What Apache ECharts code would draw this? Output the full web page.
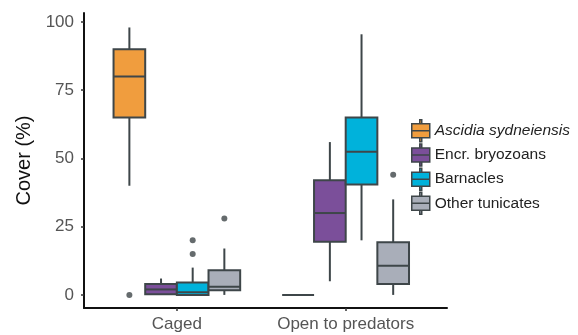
<!DOCTYPE html>
<html><head><meta charset="utf-8">
<script src="https://cdn.jsdelivr.net/npm/echarts@6/dist/echarts.min.js"></script>
<style>html,body{margin:0;padding:0;background:#fff}#c{width:578px;height:335px}</style>
</head><body><div id="c"></div>
<script>
// ---- data ----
const categories = ['Caged', 'Open to predators'];
const groupNames = ['Ascidia sydneiensis', 'Encr. bryozoans', 'Barnacles', 'Other tunicates'];
const groupColors = ['#F09D3E', '#7B4F9A', '#00B2DB', '#A9AEB9'];
// each row: [categoryIndex, min, q1, median, q3, max]
const ascidiaBox = [[0, 40, 65, 80, 90, 98], [1, 0, 0, 0, 0, 0]];
const bryozoanBox = [[0, 0, 0.2, 2, 4, 6], [1, 5, 19.5, 30, 42, 56]];
const barnacleBox = [[0, 0, 0, 1, 4.5, 10], [1, 20, 40.5, 52.5, 65, 95.5]];
const tunicateBox = [[0, 0, 1.7, 3, 9, 17], [1, 0, 4, 10.7, 19.3, 35]];
// outliers: [categoryIndex, value]
const ascidiaOut = [[0, 0]];
const bryozoanOut = [];
const barnacleOut = [[0, 20], [0, 15]];
const tunicateOut = [[0, 28], [1, 44]];
const yTicks = [0, 25, 50, 75, 100];

const boxes = [ascidiaBox, bryozoanBox, barnacleBox, tunicateBox];
const outs = [ascidiaOut, bryozoanOut, barnacleOut, tunicateOut];

const DARK = '#3E4649';
const FONT = '"Liberation Sans", Arial, Helvetica, sans-serif';
const dodge = 0.75, n = 4, boxW = dodge / n;
const offsets = [0, 1, 2, 3].map(i => -dodge / 2 + boxW * (i + 0.5));

function makeRender(k) {
  return function (params, api) {
    const xv = api.value(0) + 1 + offsets[k];
    const pMin = api.coord([xv, api.value(1)]);
    const pQ1 = api.coord([xv, api.value(2)]);
    const pMed = api.coord([xv, api.value(3)]);
    const pQ3 = api.coord([xv, api.value(4)]);
    const pMax = api.coord([xv, api.value(5)]);
    const w = api.size([boxW, 0])[0];
    const x0 = pQ1[0] - w / 2;
    const ls = { stroke: DARK, lineWidth: 2 };
    return {
      type: 'group',
      children: [
        { type: 'line', shape: { x1: pMin[0], y1: pMin[1], x2: pQ1[0], y2: pQ1[1] }, style: ls },
        { type: 'line', shape: { x1: pQ3[0], y1: pQ3[1], x2: pMax[0], y2: pMax[1] }, style: ls },
        { type: 'rect', shape: { x: x0, y: pQ3[1], width: w, height: pQ1[1] - pQ3[1] },
          style: { fill: groupColors[k], stroke: DARK, lineWidth: 2 } },
        { type: 'line', shape: { x1: x0, y1: pMed[1], x2: x0 + w, y2: pMed[1] }, style: ls }
      ]
    };
  };
}

const series = [];
boxes.forEach((b, k) => {
  series.push({
    type: 'custom', name: groupNames[k], renderItem: makeRender(k),
    data: b, encode: { x: 0, y: [1, 2, 3, 4, 5] },
    itemStyle: { color: groupColors[k], borderColor: DARK, borderWidth: 1.5 },
    z: 2
  });
});
outs.forEach((o, k) => {
  series.push({
    type: 'scatter', name: 'out' + k, symbolSize: 6,
    data: o.map(([c, v]) => [c + 1 + offsets[k], v]),
    itemStyle: { color: DARK }, z: 3
  });
});

const iconPath = 'path://M8,0h2v4h-2zM0,4h18v7h-18zM0,11h18v7h-18zM8,18h2v4h-2z';

const option = {
  backgroundColor: '#fff',
  animation: false,
  textStyle: { fontFamily: FONT },
  grid: { left: 84, right: 131, top: 13, bottom: 27, containLabel: false },
  xAxis: {
    type: 'value', min: 0.45, max: 2.6,
    axisLine: { show: true, onZero: false, lineStyle: { color: '#111', width: 2 } },
    axisTick: { show: true, customValues: [1, 2], length: 3, lineStyle: { color: '#333', width: 1.5 } },
    axisLabel: { customValues: [1, 2], formatter: v => categories[Math.round(v) - 1],
      color: '#555', fontSize: 17, margin: 8, fontFamily: FONT },
    splitLine: { show: false }
  },
  yAxis: {
    type: 'value', min: -4.8, max: 103.3,
    name: 'Cover (%)', nameLocation: 'middle', nameGap: 46,
    nameTextStyle: { color: '#111', fontSize: 20, fontFamily: FONT },
    axisLine: { show: true, onZero: false, lineStyle: { color: '#111', width: 2 } },
    axisTick: { show: true, customValues: yTicks, length: 3, lineStyle: { color: '#333', width: 1.5 } },
    axisLabel: { customValues: yTicks, color: '#555', fontSize: 17, margin: 10, fontFamily: FONT },
    splitLine: { show: false }
  },
  legend: {
    orient: 'vertical', left: 411, top: 119, padding: 0,
    itemWidth: 18, itemHeight: 22, itemGap: 0.7,
    itemStyle: { borderColor: DARK, borderWidth: 1.5 },
    textStyle: { color: '#222', fontSize: 15.5, fontFamily: FONT },
    data: groupNames.map((nm, i) => ({
      name: nm, icon: iconPath,
      textStyle: i === 0 ? { fontStyle: 'italic' } : {}
    }))
  },
  series: series
};

const chart = echarts.init(document.getElementById('c'), null, { renderer: 'canvas' });
chart.setOption(option);
</script>
</body></html>
